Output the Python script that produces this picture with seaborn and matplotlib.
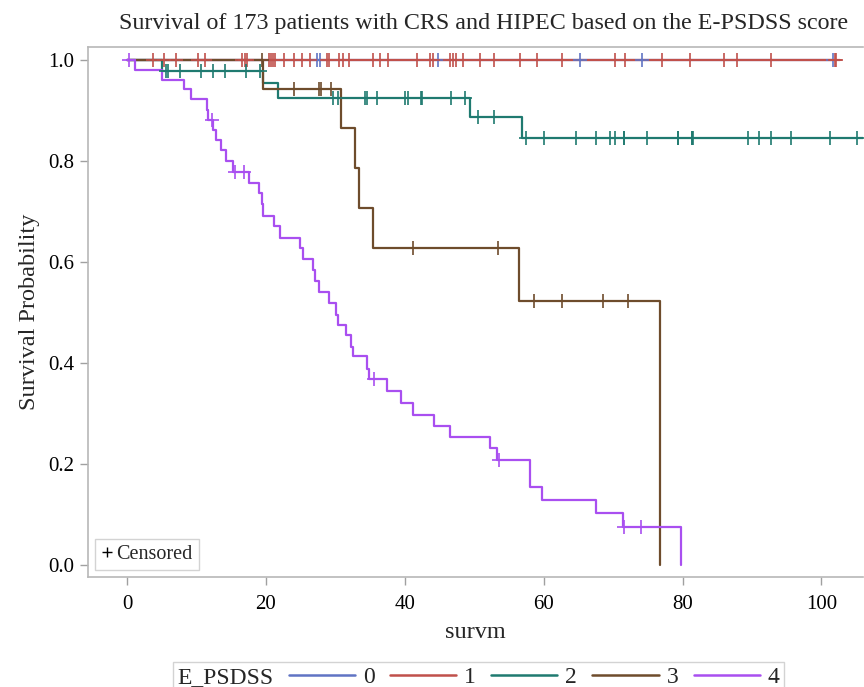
import numpy as np
import pandas as pd
import matplotlib
matplotlib.use("Agg")
import matplotlib.pyplot as plt
import seaborn as sns
from matplotlib.lines import Line2D

# ---------------- data ----------------
groups = ["0", "1", "2", "3", "4"]

t0 = [0.0, 101.6]
s0 = [1.0, 1.0]
c0 = [27.3, 27.8, 44.8, 65.2, 74.2, 101.6]

t1 = [0.0, 102.6]
s1 = [1.0, 1.0]
c1 = [3.8, 5.3, 7.0, 10.2, 11.3, 16.6, 17.0, 17.3, 20.4, 20.7, 21.0, 21.3,
      22.6, 24.1, 25.2, 26.4, 28.8, 29.1, 30.5, 31.1, 32.0, 35.4, 36.5, 37.6,
      41.8, 43.7, 44.1, 46.5, 47.0, 47.4, 48.4, 50.8, 52.9, 56.6, 59.0, 62.7,
      70.2, 71.7, 77.1, 81.0, 86.0, 87.8, 92.7, 101.9, 102.1]

t2 = [0.0, 5.0, 19.6, 21.7, 49.4, 56.9, 106.0]
s2 = [1.0, 0.978, 0.955, 0.925, 0.888, 0.846, 0.846]
c2 = [5.6, 5.9, 7.6, 10.6, 12.4, 14.1, 17.2, 19.2, 29.6, 30.4, 34.3, 34.6,
      36.0, 40.0, 40.5, 42.3, 42.5, 46.6, 48.6, 50.6, 52.8, 57.4, 60.1, 64.6,
      67.6, 69.6, 70.2, 71.5, 71.6, 74.9, 79.3, 79.4, 81.3, 81.4, 81.5, 89.4,
      91.0, 92.8, 95.6, 101.2, 105.1]

t3 = [0.0, 19.6, 30.8, 32.8, 33.4, 35.4, 56.5, 76.8]
s3 = [1.0, 0.943, 0.865, 0.786, 0.708, 0.627, 0.523, 0.0]
c3 = [19.5, 24.0, 27.6, 27.9, 29.4, 41.2, 53.4, 58.6, 62.6, 68.6, 72.2]

t4 = [0.0, 1.2, 5.1, 8.2, 9.2, 11.5, 11.7, 12.4, 12.8, 13.5, 14.2, 15.3,
      17.6, 19.0, 19.4, 19.6, 21.2, 22.0, 24.9, 25.4, 26.8, 27.1, 27.6, 29.1,
      30.1, 30.4, 31.5, 32.2, 32.5, 34.5, 34.8, 37.4, 39.4, 41.2, 44.2, 46.5,
      52.2, 53.3, 58.0, 59.7, 67.6, 71.4, 79.8]
s4 = [1.0, 0.980, 0.960, 0.943, 0.922, 0.901, 0.881, 0.861, 0.842, 0.822,
      0.800, 0.779, 0.756, 0.736, 0.715, 0.692, 0.672, 0.648, 0.627, 0.607,
      0.584, 0.563, 0.541, 0.519, 0.496, 0.475, 0.455, 0.432, 0.413, 0.389,
      0.368, 0.345, 0.321, 0.298, 0.275, 0.254, 0.231, 0.208, 0.155, 0.129,
      0.102, 0.076, 0.0]
c4 = [0.3, 12.3, 15.5, 16.8, 35.6, 53.5, 71.5, 74.0]

times = [t0, t1, t2, t3, t4]
survs = [s0, s1, s2, s3, s4]
cens = [c0, c1, c2, c3, c4]

colors = ["#6074c4", "#c0504b", "#1f7a70", "#6e4c2c", "#a94ff0"]

# ---------------- build tables ----------------
curve_rows = []
cens_rows = []
for g, tt, ss, cc in zip(groups, times, survs, cens):
    for t, s in zip(tt, ss):
        curve_rows.append({"time": t, "surv": s, "group": g})
    tt_a = np.asarray(tt)
    ss_a = np.asarray(ss)
    for c in cc:
        idx = np.searchsorted(tt_a, c, side="right") - 1
        cens_rows.append({"time": c, "surv": ss_a[idx], "group": g})
curves = pd.DataFrame(curve_rows)
cdf = pd.DataFrame(cens_rows)

# ---------------- plot ----------------
sns.set_theme(style="white")
plt.rcParams["font.family"] = ["Liberation Serif", "DejaVu Serif"]

fig = plt.figure(figsize=(8.64, 6.87), dpi=100)
ax = fig.add_axes([0.102, 0.160, 0.897, 0.7716])

palette = dict(zip(groups, colors))
for g in groups:
    sub = curves[curves["group"] == g]
    sns.lineplot(data=sub, x="time", y="surv", color=palette[g],
                 drawstyle="steps-post", estimator=None, sort=False,
                 linewidth=1.6, ax=ax, legend=False)
for g in groups:
    sub = cdf[cdf["group"] == g]
    sns.scatterplot(data=sub, x="time", y="surv", color=palette[g],
                    marker="+", s=90, linewidth=1.2, ax=ax, legend=False,
                    zorder=3)

ax.set_xlim(-5.6, 106.0)
ax.set_ylim(-0.024, 1.026)
ax.set_xticks([0, 20, 40, 60, 80, 100])
ax.set_yticks([0.0, 0.2, 0.4, 0.6, 0.8, 1.0])
ax.set_yticklabels([f"{v:.1f}" for v in [0.0, 0.2, 0.4, 0.6, 0.8, 1.0]])

for sp in ax.spines.values():
    sp.set_color("#b8b8b8")
    sp.set_linewidth(1.2)
ax.spines["right"].set_visible(False)
ax.tick_params(axis="both", which="both", direction="out", length=6,
               width=1.0, color="#a0a0a0", labelsize=15, labelcolor="black",
               bottom=True, left=True)
ax.tick_params(axis="x", pad=7)
ax.tick_params(axis="y", pad=4)

ax.set_xlabel("survm", fontsize=17.5, labelpad=6)
ax.set_ylabel("Survival Probability", fontsize=17.5, labelpad=6)
ax.set_title("Survival of 173 patients with CRS and HIPEC based on the E-PSDSS score",
             fontsize=17.3, pad=13, x=0.51)

# censored legend inside axes
cens_handle = [Line2D([], [], marker="+", color="black", linestyle="none",
                      markersize=7, markeredgewidth=1.0)]
leg1 = ax.legend(cens_handle, ["Censored"], loc="lower left",
                 bbox_to_anchor=(0.0, 0.0), frameon=True, fontsize=14.5,
                 handlelength=0.6, handletextpad=0.15, borderpad=0.3,
                 borderaxespad=0.35, fancybox=False)
leg1.get_frame().set_edgecolor("#c8c8c8")
leg1.get_frame().set_linewidth(1.0)

# group legend at bottom
handles = [Line2D([], [], color=c, linewidth=1.8) for c in colors]
leg = fig.legend(handles, groups, title="E_PSDSS", loc="upper center",
                 bbox_to_anchor=(478.5 / 864, 1 - 650 / 687), ncol=5,
                 frameon=True, fontsize=17, title_fontsize=17,
                 handlelength=2.8, handletextpad=0.34, columnspacing=0.64,
                 borderpad=0.2, fancybox=False)
leg.get_frame().set_edgecolor("#c8c8c8")
leg.get_frame().set_linewidth(1.0)
# put title on the left of entries
vbox = leg.get_children()[0]
title_box = vbox.get_children()[0]
hbox = vbox.get_children()[1]
vbox._children = [hbox]
hbox._children = [title_box] + hbox.get_children()
hbox.sep = 11

fig.savefig("out.png", dpi=100)
